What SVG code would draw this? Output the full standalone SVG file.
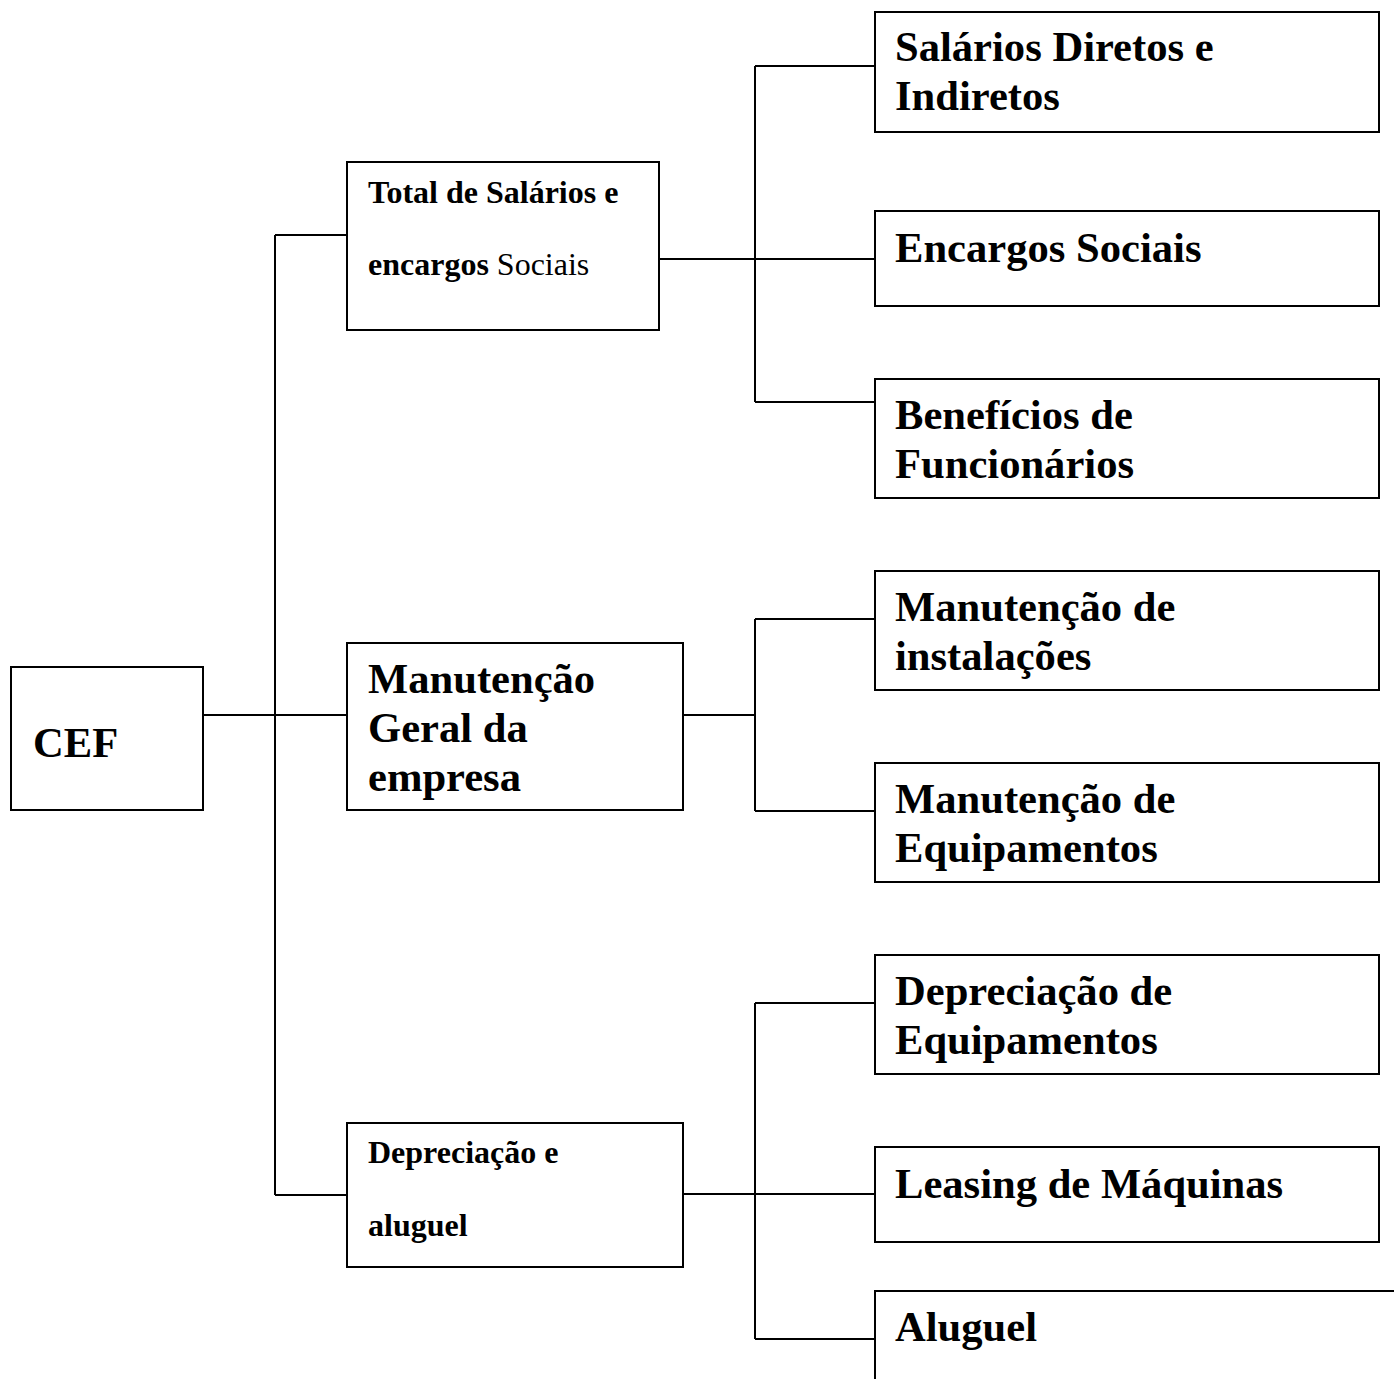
<svg xmlns="http://www.w3.org/2000/svg" width="1394" height="1379" viewBox="0 0 1394 1379">
<style>
.box{fill:#fff;stroke:#000;stroke-width:2}
.con{fill:none;stroke:#000;stroke-width:2}
text{font-family:"Liberation Serif","Times New Roman",Times,serif;fill:#000}
.big{font-size:42.6px;font-weight:bold}
.small{font-size:32px;font-weight:bold}
.reg{font-weight:normal;font-family:"Liberation Serif","Times New Roman",Times,serif}
</style>
<rect width="1394" height="1379" fill="#fff"/>
<g id="connectors">
<path class="con" d="M203 715H347M275 235V1195M275 235H347M275 1195H347"/>
<path class="con" d="M659 259H875M755 66V402M755 66H875M755 402H875"/>
<path class="con" d="M683 715H755M755 619V811M755 619H875M755 811H875"/>
<path class="con" d="M683 1194H875M755 1003V1339M755 1003H875M755 1339H875"/>
</g>
<g id="cef"><rect class="box" x="11" y="667" width="192" height="143"/><text class="big" x="33" y="757">CEF</text></g>
<g id="total-salarios"><rect class="box" x="347" y="162" width="312" height="168"/><text class="small" x="368" y="203">Total de Salários e</text><text class="small" x="368" y="275">encargos<tspan class="reg"> Sociais</tspan></text></g>
<g id="manutencao-geral"><rect class="box" x="347" y="643" width="336" height="167"/><text class="big" x="368" y="693">Manutenção</text><text class="big" x="368" y="742">Geral da</text><text class="big" x="368" y="791">empresa</text></g>
<g id="depreciacao-aluguel"><rect class="box" x="347" y="1123" width="336" height="144"/><text class="small" x="368" y="1163">Depreciação e</text><text class="small" x="368" y="1236">aluguel</text></g>
<g id="salarios-diretos"><rect class="box" x="875" y="12" width="504" height="120"/><text class="big" x="895" y="61">Salários Diretos e</text><text class="big" x="895" y="110">Indiretos</text></g>
<g id="encargos-sociais"><rect class="box" x="875" y="211" width="504" height="95"/><text class="big" x="895" y="262">Encargos Sociais</text></g>
<g id="beneficios"><rect class="box" x="875" y="379" width="504" height="119"/><text class="big" x="895" y="429">Benefícios de</text><text class="big" x="895" y="478">Funcionários</text></g>
<g id="manutencao-instalacoes"><rect class="box" x="875" y="571" width="504" height="119"/><text class="big" x="895" y="621">Manutenção de</text><text class="big" x="895" y="670">instalações</text></g>
<g id="manutencao-equipamentos"><rect class="box" x="875" y="763" width="504" height="119"/><text class="big" x="895" y="813">Manutenção de</text><text class="big" x="895" y="862">Equipamentos</text></g>
<g id="depreciacao-equipamentos"><rect class="box" x="875" y="955" width="504" height="119"/><text class="big" x="895" y="1005">Depreciação de</text><text class="big" x="895" y="1054">Equipamentos</text></g>
<g id="leasing"><rect class="box" x="875" y="1147" width="504" height="95"/><text class="big" x="895" y="1198">Leasing de Máquinas</text></g>
<g id="aluguel"><rect class="box" x="875" y="1291" width="540" height="120"/><text class="big" x="895" y="1341">Aluguel</text></g>
</svg>
